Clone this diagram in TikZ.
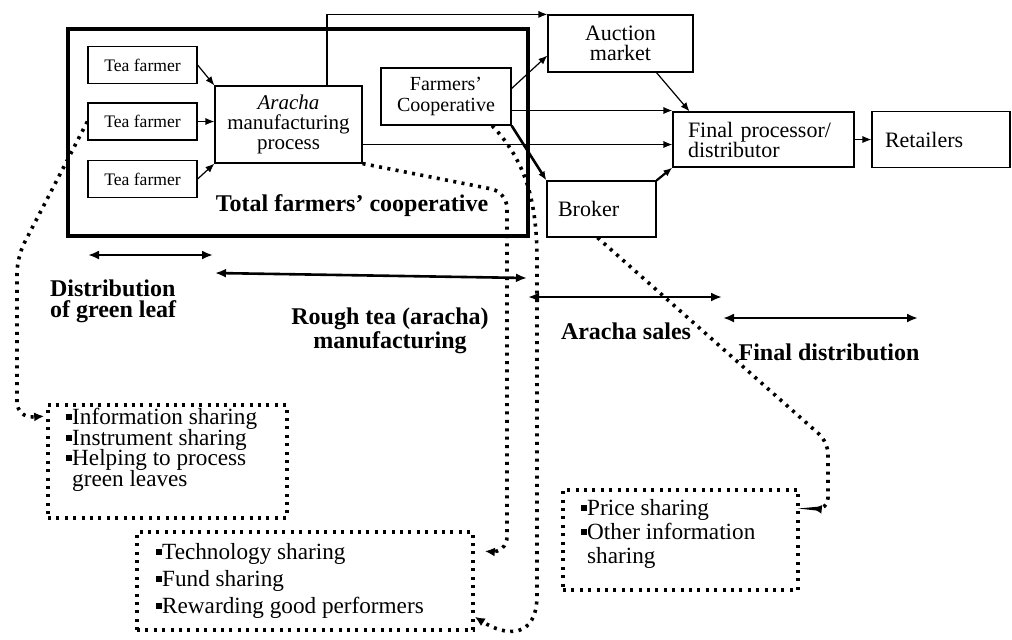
\documentclass[tikz,border=0pt]{standalone}
\usepackage{fontspec}
\setmainfont{Liberation Serif}
\usetikzlibrary{arrows.meta,positioning}

\newcommand{\sqbullet}{\raisebox{2.4pt}{\rule{2.9pt}{2.9pt}}}
\newcommand{\sqgap}{\hphantom{\sqbullet}}
\newcommand{\tightlines}{\setlength{\lineskiplimit}{-5pt}}

\begin{document}
\begin{tikzpicture}[x=0.5pt, y=-0.5pt, node distance=28.25pt,
  block/.style={rectangle, draw, line width=0.6pt, inner sep=2pt, align=center, font=\fontsize{11}{10}\selectfont},
  farmer/.style={block, minimum width=54.5pt, minimum height=18.5pt, font=\fontsize{8.8}{10}\selectfont},
  leftblock/.style={block, align=left},
  phase/.style={font=\bfseries\fontsize{12}{10.5}\selectfont},
  flow/.style={-{Latex[length=4.5pt,width=3.6pt]}, line width=0.6pt},
  span/.style={{Latex[length=5.5pt,width=4.5pt]}-{Latex[length=5.5pt,width=4.5pt]}, line width=1.3pt},
  dotline/.style={line width=1.8pt, dash pattern=on 1.5pt off 2.7pt},
  hint/.style={dotline, -{Latex[length=5pt,width=4.5pt]}},
  dotbox/.style={rectangle, draw, dotline},
  bullets/.style={inner sep=0pt, align=left, font=\fontsize{11.6}{#1}\selectfont\tightlines}]

  \useasboundingbox (0,0) rectangle (1012,639);

  \node[farmer] (tf1) at (142.5,65) {Tea farmer};
  \node[farmer, below of=tf1] (tf2) {Tea farmer};
  \node[farmer, below of=tf2, node distance=28.75pt] (tf3) {Tea farmer};
  \node[block, minimum width=73.5pt, minimum height=38.5pt, font=\fontsize{10.5}{10}\selectfont] (aracha) at (288.5,124.5) {\textit{Aracha}\\manufacturing\\process};
  \node[block, minimum width=65pt, minimum height=28.5pt, font=\fontsize{10}{10.5}\selectfont] (coop) at (446,96.5) {Farmers'\\Cooperative};
  \node[block, minimum width=72.5pt, minimum height=28.5pt] (auction) at (620.5,43.5) {Auction\\market};
  \node[leftblock, text width=75.5pt, minimum height=27.5pt, inner xsep=7.5pt] (final) at (763.5,139.5) {Final processor/\\distributor};
  \node[leftblock, text width=56pt, minimum height=28pt, inner xsep=6.5pt, right of=final, node distance=88.75pt] (retail) {Retailers};
  \node[leftblock, text width=43.5pt, minimum height=28pt, inner xsep=5.5pt] (broker) at (601.5,209) {Broker};

  % frame round the whole cooperative
  \node[draw, line width=2pt, minimum width=230pt, minimum height=103.5pt] (total) at (298,132.5) {};
  \node[phase] (totallbl) at (352,206) {Total farmers' cooperative};

  \draw[flow] (tf1.east) -- (aracha.north west);
  \draw[flow] (tf2.east) -- (tf2.east -| aracha.west);
  \draw[flow] (tf3.east) -- (aracha.south west);
  \draw[flow] ([xshift=19.25pt]aracha.north) |- (auction.north west);
  \draw[flow] ([yshift=4pt]coop.east) -- ([yshift=-6pt]auction.west);
  \draw[flow] ([yshift=-7pt]coop.east) -- ([yshift=-7pt]coop.east -| final.west);
  \draw[flow] ([yshift=-10pt]aracha.east) -- ([yshift=-10pt]aracha.east -| final.west);
  \draw[flow, line width=1.3pt] (coop.south east) -- (broker.north west);
  \draw[flow] ([xshift=18pt]auction.south) -- ([xshift=-37pt]final.north);
  \draw[flow, line width=1.1pt] (broker.north east) -- (final.south west);
  \draw[flow] (final) -- (retail);

  % stages along the chain
  \coordinate (leaf-l) at (88,255);
  \coordinate (leaf-r) at (213,255);
  \coordinate (rough-l) at (215,273);
  \coordinate (rough-r) at (527,278);
  \coordinate (sales-l) at (528,297);
  \coordinate (sales-r) at (722,297);
  \coordinate (dist-l) at (723,318);
  \coordinate (dist-r) at (918,318);
  \draw[span] (leaf-l) -- (leaf-r);
  \draw[span] (rough-l) -- (rough-r);
  \draw[span] (sales-l) -- (sales-r);
  \draw[span] (dist-l) -- (dist-r);

  \node[phase, align=left, anchor=west] (leaflbl) at (43,301) {Distribution\\of green leaf};
  \node[phase, align=center] (roughlbl) at (390,331) {Rough tea (aracha)\\manufacturing};
  \node[phase] (saleslbl) at (626,331) {Aracha sales};
  \node[phase] (distlbl) at (829,352) {Final distribution};

  % what is shared at each stage
  \node[dotbox, minimum width=119.5pt, minimum height=56.5pt] (helpbox) at (167.5,461.5) {};
  \node[bullets=10.3pt, anchor=north west] (helptext) at (66,408) {\sqbullet Information sharing\\ \sqbullet Instrument sharing\\ \sqbullet Helping to process\\ \sqgap green leaves};
  \node[dotbox, minimum width=168pt, minimum height=49pt] (techbox) at (305,581) {};
  \node[bullets=13.5pt, anchor=north west] (techtext) at (156,543) {\sqbullet Technology sharing\\ \sqbullet Fund sharing\\ \sqbullet Rewarding good performers};
  \node[dotbox, minimum width=117.5pt, minimum height=50pt] (pricebox) at (680.5,540) {};
  \node[bullets=12pt, anchor=north west] (pricetext) at (581,499) {\sqbullet Price sharing\\ \sqbullet Other information\\ \sqgap sharing};

  \draw[hint, rounded corners=8pt] (tf2.west) -- (17,257) -- (17,418) -- ([shift={(-1pt,-6.5pt)}]helpbox.north west);
  \draw[hint, rounded corners=8pt] (aracha.south east) -- (507,192) -- (507,553) -- ([shift={(5pt,-10.5pt)}]techbox.north east);
  \draw[hint] ([xshift=23pt]coop.south) .. controls (525,160) and (537,200) .. (537,260) -- (537,595) .. controls (537,640) and (505,636) .. ([shift={(0pt,7.5pt)}]techbox.south east);
  \draw[hint, rounded corners=6pt] ([xshift=-2pt]broker.south) -- (828,442) -- (828,510) -- ([shift={(6pt,-10pt)}]pricebox.north east);
\end{tikzpicture}
\end{document}
